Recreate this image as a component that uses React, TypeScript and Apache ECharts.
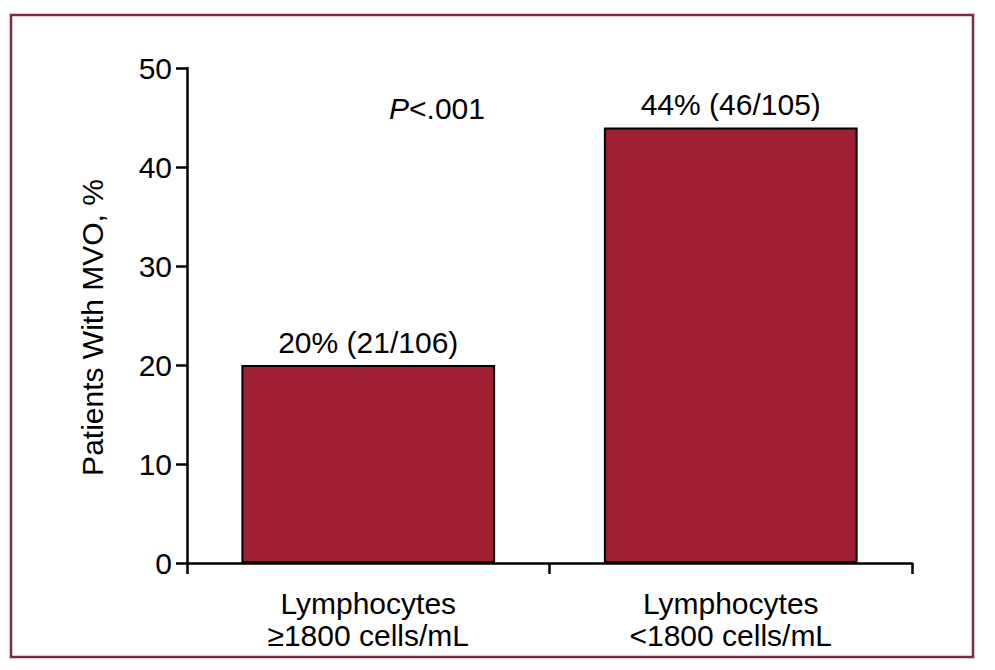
import React, { useEffect, useRef } from "react";
import * as echarts from "echarts";

const categories = ["Lymphocytes\n≥1800 cells/mL", "Lymphocytes\n<1800 cells/mL"];
const percentValues = [20, 44];
const counts = ["21/106", "46/105"];
const yTicks = { min: 0, max: 50, interval: 10 };
const pText = ".001";

const FONT = "'Liberation Sans', Arial, sans-serif";
const FS = 30;

export default function App() {
  const ref = useRef<HTMLDivElement>(null);
  useEffect(() => {
    if (!ref.current) return;
    const chart = echarts.init(ref.current, null, { renderer: "svg" });
    chart.setOption({
      animation: false,
      backgroundColor: "#ffffff",
      textStyle: { fontFamily: FONT },
      grid: { left: 187, right: 83, top: 68, bottom: 107 },
      xAxis: {
        type: "category",
        data: categories,
        axisLine: { lineStyle: { color: "#000", width: 2.5 } },
        axisTick: { show: true, length: 11, alignWithLabel: false, lineStyle: { color: "#000", width: 2.5 } },
        axisLabel: { color: "#000", fontSize: FS, fontFamily: FONT, lineHeight: 32, margin: 24, interval: 0 },
      },
      yAxis: {
        type: "value",
        min: yTicks.min,
        max: yTicks.max,
        interval: yTicks.interval,
        name: "Patients With MVO, %",
        nameLocation: "middle",
        nameGap: 80,
        nameTextStyle: { color: "#000", fontSize: FS, fontFamily: FONT, padding: [0, 24, 0, 0] },
        axisLine: { show: true, lineStyle: { color: "#000", width: 2.5 } },
        axisTick: { show: true, length: 11, lineStyle: { color: "#000", width: 2.5 } },
        axisLabel: { color: "#000", fontSize: FS, fontFamily: FONT, margin: 15 },
        splitLine: { show: false },
      },
      series: [
        {
          type: "bar",
          data: percentValues,
          barWidth: "70%",
          itemStyle: { color: "#9E1F32", borderColor: "#000", borderWidth: 2 },
          label: {
            show: true,
            position: "top",
            distance: 8,
            color: "#000",
            fontSize: FS,
            fontFamily: FONT,
            formatter: (p: any) => `${p.value}% (${counts[p.dataIndex]})`,
          },
        },
      ],
      graphic: [
        {
          type: "rect",
          shape: { x: 11, y: 15, width: 962, height: 642 },
          style: { fill: "none", stroke: "#7B2C40", lineWidth: 2.5 },
          silent: true,
        },
        {
          type: "text",
          x: 437,
          y: 108,
          style: {
            text: `{i|P}{n|<${pText}}`,
            align: "center",
            verticalAlign: "middle",
            rich: {
              i: { fontStyle: "italic", fontSize: FS, fontFamily: FONT, fill: "#000" },
              n: { fontSize: FS, fontFamily: FONT, fill: "#000" },
            },
          },
        },
      ],
    });
    return () => chart.dispose();
  }, []);
  return (
    <div
      ref={ref}
      style={{ position: "fixed", left: 0, top: 0, width: 995, height: 670, background: "#fff" }}
    />
  );
}
